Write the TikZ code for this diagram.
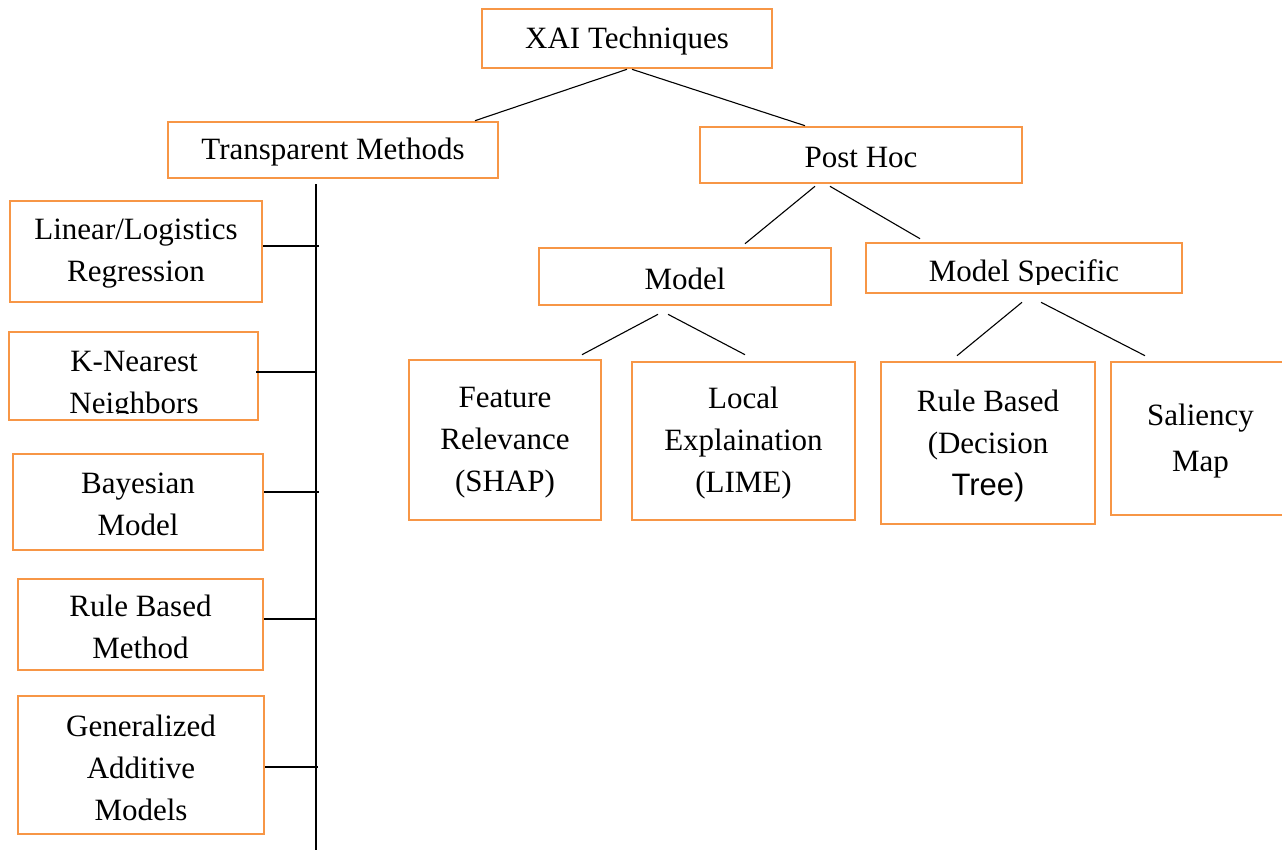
\documentclass[tikz,border=0pt]{standalone}
\usepackage{fontspec}
\setmainfont{Liberation Serif}
\newfontfamily\arialfont{Liberation Sans}
\usetikzlibrary{calc}
\definecolor{boxorange}{HTML}{F79646}
\tikzset{
  boxnode/.style={draw=boxorange, line width=2.6pt, inner sep=0pt},
  labeltext/.style={inner sep=0pt, align=center, yshift=-2.5pt,
    font=\fontsize{31}{42}\selectfont},
  thinline/.style={line width=1.1pt, black},
  spineline/.style={line width=2pt, black}
}
\begin{document}
\begin{tikzpicture}[x=1pt, y=-1pt]
\useasboundingbox (0,0) rectangle (1282,850);
% top level
\node[boxnode, minimum width=290pt, minimum height=59pt,
  label={[labeltext]center:XAI Techniques}] (xai) at (627,38.5) {};
\node[boxnode, minimum width=330pt, minimum height=56pt,
  label={[labeltext]center:Transparent Methods}] (tm) at (333,150) {};
\node[boxnode, minimum width=322pt, minimum height=56pt,
  label={[labeltext]center:Post Hoc}] (ph) at (861,155) {};
% post hoc level
\node[boxnode, minimum width=292pt, minimum height=57pt,
  label={[labeltext]center:Model}] (model) at (685,276.5) {};
\node[boxnode, minimum width=316pt, minimum height=50pt] (ms) at (1024,268) {};
\begin{scope}
  \clip (ms.north west) rectangle ($(ms.south east)+(0,-10)$);
  \node[labeltext, yshift=0pt] (mstext) at (1024,271) {Model Specific};
\end{scope}
\node[boxnode, minimum width=192pt, minimum height=160pt,
  label={[labeltext]center:Feature\\Relevance\\(SHAP)}] (fr) at (505,440) {};
\node[boxnode, minimum width=223pt, minimum height=158pt,
  label={[labeltext]center:Local\\Explaination\\(LIME)}] (le) at (743.5,441) {};
\node[boxnode, minimum width=214pt, minimum height=162pt,
  label={[labeltext]center:Rule Based\\(Decision\\{\arialfont Tree)}}] (rb) at (988,443) {};
\node[boxnode, minimum width=179pt, minimum height=153pt,
  label={[labeltext, font=\fontsize{31}{46}\selectfont]center:Saliency\\Map}] (sm) at (1200.5,438.5) {};
% transparent methods list
\node[boxnode, minimum width=252pt, minimum height=101pt,
  label={[labeltext]center:Linear/Logistics\\Regression}] (lr) at (136,251.5) {};
\node[boxnode, minimum width=249pt, minimum height=88pt] (knn) at (133.5,376) {};
\begin{scope}
  \clip (knn.north west) rectangle ($(knn.south east)+(0,-8)$);
  \node[labeltext, yshift=0pt] (knntext) at (134,383) {K-Nearest\\Neighbors};
\end{scope}
\node[boxnode, minimum width=250pt, minimum height=96pt,
  label={[labeltext]center:Bayesian\\Model}] (bm) at (138,502) {};
\node[boxnode, minimum width=245pt, minimum height=91pt,
  label={[labeltext]center:Rule Based\\Method}] (rbm) at (140.5,624.5) {};
\node[boxnode, minimum width=246pt, minimum height=138pt,
  label={[labeltext]center:Generalized\\Additive\\Models}] (gam) at (141,765) {};
% connectors
\draw[thinline] (xai.south) -- ($(tm.north)+(142,0)$);
\draw[thinline] ($(xai.south)+(5,0)$) -- ($(ph.north)+(-56,0)$);
\draw[thinline] ($(ph.south)+(-46,2)$) -- ($(model.north)+(60,-3)$);
\draw[thinline] ($(ph.south)+(-31,2)$) -- ($(ms.north)+(-104,-3)$);
\draw[thinline] ($(model.south)+(-27,8)$) -- ($(fr.north)+(77,-4)$);
\draw[thinline] ($(model.south)+(-17,8)$) -- ($(le.north)+(1.5,-6)$);
\draw[thinline] ($(ms.south)+(-2,8)$) -- ($(rb.north)+(-31,-5)$);
\draw[thinline] ($(ms.south)+(17,8)$) -- ($(sm.north)+(-55.5,-5)$);
% spine
\coordinate (spinebot) at (316,850);
\draw[spineline] ($(tm.south)+(-17,5)$) -- (spinebot);
\draw[spineline] ($(lr.east)+(0,-5.5)$) -- ++(56,0);
\draw[spineline] ($(knn.east)+(-3,-4)$) -- ++(61,0);
\draw[spineline] ($(bm.east)+(0,-10)$) -- ++(55,0);
\draw[spineline] ($(rbm.east)+(0,-5.5)$) -- ++(53,0);
\draw[spineline] ($(gam.east)+(0,2)$) -- ++(53,0);
\end{tikzpicture}
\end{document}
